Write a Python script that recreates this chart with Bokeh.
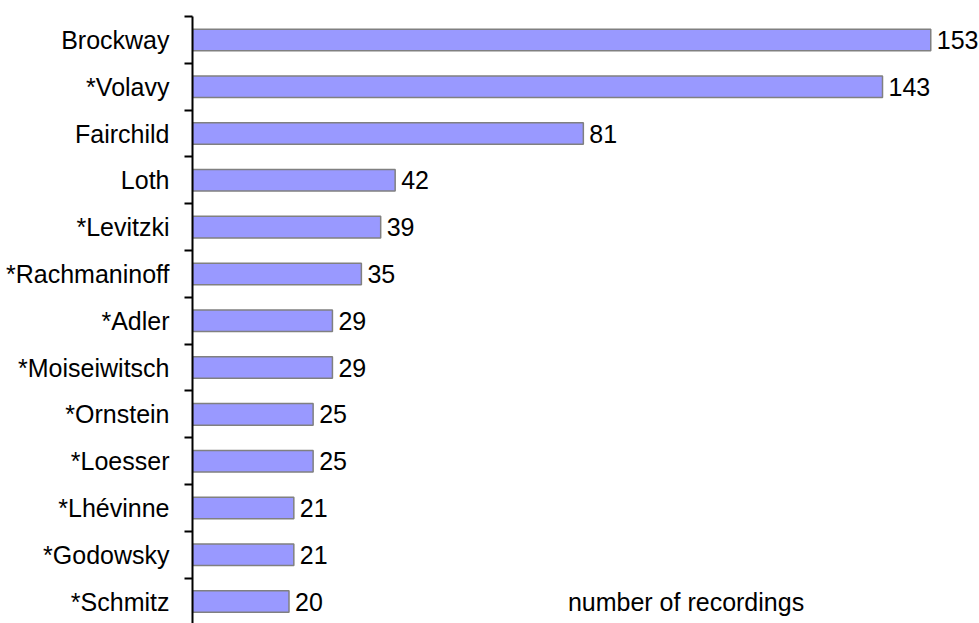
from bokeh.plotting import figure
from bokeh.models import Range1d, FixedTicker, ColumnDataSource, LinearAxis
from bokeh.core.properties import value
from bokeh.embed import file_html
from bokeh.resources import INLINE

names = ["Brockway", "*Volavy", "Fairchild", "Loth", "*Levitzki", "*Rachmaninoff",
         "*Adler", "*Moiseiwitsch", "*Ornstein", "*Loesser", "*Lhévinne",
         "*Godowsky", "*Schmitz"]
counts = [153, 143, 81, 42, 39, 35, 29, 29, 25, 25, 21, 21, 20]
axis_title = "number of recordings"

n = len(names)
ycent = [n - i - 0.5 for i in range(n)]
src = ColumnDataSource(dict(y=ycent, v=counts, lab=[str(c) for c in counts]))

p = figure(width=979, height=623, output_backend="svg", toolbar_location=None,
           x_range=Range1d(0, 163.1), y_range=Range1d(0.032, n),
           x_axis_location=None, y_axis_location=None,
           min_border_left=192, min_border_right=0, min_border_top=16, min_border_bottom=0)
p.outline_line_color = None
p.xgrid.visible = False
p.ygrid.visible = False

p.hbar(y="y", right="v", left=0, height=0.46, source=src,
       fill_color="#9999FF", line_color="#808080", line_width=1.5)

p.text(x="v", y="y", text="lab", source=src, x_offset=6,
       text_baseline="middle", text_align="left",
       text_font=value("Liberation Sans"), text_font_size="25px", text_color="black")

p.text(x=[77.8], y=[ycent[-1]], text=[axis_title], text_baseline="middle", text_align="left",
       text_font=value("Liberation Sans"), text_font_size="25px", text_color="black")

ax = LinearAxis()
ax.ticker = FixedTicker(ticks=ycent, minor_ticks=list(range(0, n + 1)))
ax.major_label_overrides = {y: nm for y, nm in zip(ycent, names)}
ax.major_tick_out = 0
ax.major_tick_in = 0
ax.minor_tick_out = 8
ax.minor_tick_in = 0
ax.minor_tick_line_width = 2
ax.minor_tick_line_color = "black"
ax.axis_line_width = 2
ax.axis_line_color = "black"
ax.major_label_standoff = 15
ax.major_label_text_font = "Liberation Sans"
ax.major_label_text_font_size = "25px"
ax.major_label_text_color = "black"
p.add_layout(ax, "left")

open("out.html", "w").write(file_html(p, INLINE))
